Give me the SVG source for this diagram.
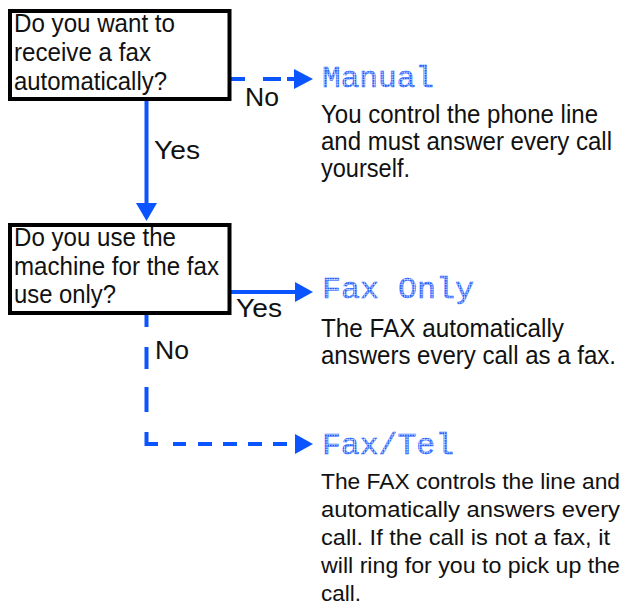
<svg xmlns="http://www.w3.org/2000/svg" width="629" height="610" viewBox="0 0 629 610">
<defs>
<pattern id="dots" width="2.5" height="2.5" patternUnits="userSpaceOnUse">
<rect width="2" height="2" fill="#1f5fff"/>
</pattern>
<style>
.box{fill:#fff;stroke:#000;stroke-width:4}
.t{font-family:"Liberation Sans",Arial,sans-serif;font-size:25px;fill:#111}
.n{font-size:22.8px}
.lcd{font-family:"Liberation Mono","DejaVu Sans Mono",monospace;font-size:29px;fill:url(#dots);stroke:#1f5fff;stroke-width:0.4}
.solid{stroke:#0a55ff;stroke-width:4;fill:none}
.head{fill:#0a55ff}
</style>
</defs>
<rect width="629" height="610" fill="#fff"/>
<g id="connectors">
<line class="solid" x1="146.5" y1="101" x2="146.5" y2="205"/>
<polygon class="head" points="136,203 157,203 146.5,221"/>
<path class="solid" d="M231 79H245M263 79H281M287 79H295"/>
<polygon class="head" points="294,69 313,79 294,89"/>
<line class="solid" x1="231" y1="292" x2="297" y2="292"/>
<polygon class="head" points="295,282 313,292 295,302"/>
<path class="solid" d="M146.5 315V327M146.5 347V369M146.5 387V412M146.5 432V444H158M173 444H186M198 444H212M223 444H237M248 444H262M273 444H287"/>
<polygon class="head" points="295,434 313,444 295,454"/>
<text class="t" x="154" y="159" textLength="46" lengthAdjust="spacingAndGlyphs">Yes</text>
<text class="t" x="245" y="106" textLength="34" lengthAdjust="spacingAndGlyphs">No</text>
<text class="t" x="236" y="317" textLength="46" lengthAdjust="spacingAndGlyphs">Yes</text>
<text class="t" x="155" y="359" textLength="34" lengthAdjust="spacingAndGlyphs">No</text>
</g>
<g id="box1">
<rect class="box" x="10" y="11" width="219.5" height="88"/>
<text class="t" x="14" y="32" textLength="161" lengthAdjust="spacingAndGlyphs">Do you want to</text>
<text class="t" x="14" y="61" textLength="137" lengthAdjust="spacingAndGlyphs">receive a fax</text>
<text class="t" x="14" y="90" textLength="153" lengthAdjust="spacingAndGlyphs">automatically?</text>
</g>
<g id="box2">
<rect class="box" x="10" y="225" width="219.5" height="88"/>
<text class="t" x="14" y="246" textLength="162" lengthAdjust="spacingAndGlyphs">Do you use the</text>
<text class="t" x="14" y="275" textLength="205" lengthAdjust="spacingAndGlyphs">machine for the fax</text>
<text class="t" x="14" y="303" textLength="102" lengthAdjust="spacingAndGlyphs">use only?</text>
</g>
<g id="manual">
<text class="lcd" x="322" y="87" textLength="112" lengthAdjust="spacingAndGlyphs">Manual</text>
<text class="t" x="321" y="123" textLength="277" lengthAdjust="spacingAndGlyphs">You control the phone line</text>
<text class="t" x="321" y="150" textLength="291" lengthAdjust="spacingAndGlyphs">and must answer every call</text>
<text class="t" x="321" y="176.5" textLength="89" lengthAdjust="spacingAndGlyphs">yourself.</text>
</g>
<g id="faxonly">
<text class="lcd" x="322" y="298" textLength="152" lengthAdjust="spacingAndGlyphs">Fax Only</text>
<text class="t" x="321" y="336.5" textLength="243" lengthAdjust="spacingAndGlyphs">The FAX automatically</text>
<text class="t" x="321" y="364" textLength="295" lengthAdjust="spacingAndGlyphs">answers every call as a fax.</text>
</g>
<g id="faxtel">
<text class="lcd" x="322" y="454" textLength="132" lengthAdjust="spacingAndGlyphs">Fax/Tel</text>
<text class="t n" x="321" y="489" textLength="299" lengthAdjust="spacingAndGlyphs">The FAX controls the line and</text>
<text class="t n" x="321" y="517" textLength="299" lengthAdjust="spacingAndGlyphs">automatically answers every</text>
<text class="t n" x="321" y="544.5" textLength="289" lengthAdjust="spacingAndGlyphs">call. If the call is not a fax, it</text>
<text class="t n" x="321" y="572.5" textLength="299" lengthAdjust="spacingAndGlyphs">will ring for you to pick up the</text>
<text class="t n" x="321" y="600.5" textLength="40" lengthAdjust="spacingAndGlyphs">call.</text>
</g>
</svg>
